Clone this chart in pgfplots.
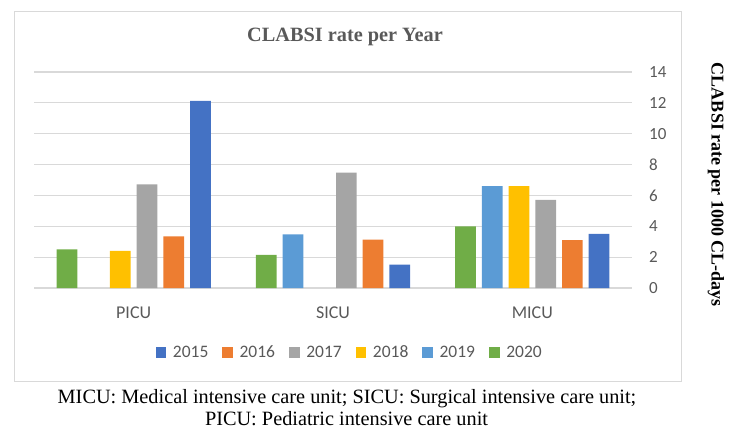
\documentclass[border=0pt]{standalone}
\usepackage{pgfplots}
\pgfplotsset{compat=1.18}
\usepackage{fontspec}
\setmainfont{Liberation Serif}
\newfontfamily\carlito{Carlito}
\definecolor{c2015}{HTML}{4472C4}
\definecolor{c2016}{HTML}{ED7D31}
\definecolor{c2017}{HTML}{A5A5A5}
\definecolor{c2018}{HTML}{FFC000}
\definecolor{c2019}{HTML}{5B9BD5}
\definecolor{c2020}{HTML}{70AD47}
\definecolor{gridgray}{HTML}{D9D9D9}
\definecolor{labelgray}{HTML}{595959}
\begin{document}
\begin{tikzpicture}[x=1pt,y=1pt]
\useasboundingbox (0,0) rectangle (744,-441);
\draw[gridgray, line width=1pt] (14,-12) rectangle (681,-381);
\node[anchor=base, font=\bfseries\fontsize{20.3}{22}\selectfont, text=labelgray] at (345,-41.7) {CLABSI rate per Year};
\begin{axis}[
  at={(34pt,-288pt)}, anchor=south west,
  scale only axis, width=598pt, height=216pt,
  ybar, bar width=20.7pt,
  xmin=-0.5, xmax=2.5, ymin=0, ymax=14,
  xtick={0,1,2}, xticklabels={PICU,SICU,MICU},
  ytick={0,2,...,14},
  yticklabel pos=right,
  major tick length=0pt,
  axis line style={draw=none},
  ymajorgrids, grid style={draw=gridgray, line width=1.2pt},
  ticklabel style={text=labelgray},
  yticklabel style={font=\carlito\fontsize{17}{17}\selectfont},
  xticklabel style={font=\carlito\fontsize{18}{18}\selectfont},
  /pgf/number format/assume math mode=true,
  yticklabel style={anchor=west, inner sep=0pt, xshift=17pt},
  xticklabel style={anchor=base, inner sep=0pt, yshift=-30.3pt},
  legend columns=6,
  legend style={at={(0.528,-0.298)}, anchor=center, draw=none,
    font=\carlito\fontsize{17.5}{17.5}\selectfont, text=labelgray,
    /tikz/every odd column/.append style={column sep=4.5pt},
    /tikz/every even column/.append style={column sep=12pt}},
  legend image code/.code={\path[#1,draw=none] (0pt,-5.3pt) rectangle (10.7pt,5.3pt);},
]
\addplot[fill=c2015, draw=none, bar shift=66.75pt] coordinates {(0,12.13) (1,1.52) (2,3.51)};
\addplot[fill=c2016, draw=none, bar shift=40.05pt] coordinates {(0,3.34) (1,3.14) (2,3.10)};
\addplot[fill=c2017, draw=none, bar shift=13.35pt] coordinates {(0,6.72) (1,7.48) (2,5.72)};
\addplot[fill=c2018, draw=none, bar shift=-13.35pt] coordinates {(0,2.40) (2,6.60)};
\addplot[fill=c2019, draw=none, bar shift=-40.05pt] coordinates {(1,3.47) (2,6.61)};
\addplot[fill=c2020, draw=none, bar shift=-66.75pt] coordinates {(0,2.51) (1,2.15) (2,4.00)};
\legend{2015,2016,2017,2018,2019,2020}
\end{axis}
\node[rotate=-90, font=\bfseries\fontsize{18}{20}\selectfont] at (716,-185) {CLABSI rate per 1000 CL-days};
\node[anchor=base, font=\fontsize{20.3}{22}\selectfont] at (347,-403.3) {MICU: Medical intensive care unit; SICU: Surgical intensive care unit;};
\node[anchor=base, font=\fontsize{20.3}{22}\selectfont] at (346.5,-425.5) {PICU: Pediatric intensive care unit};
\end{tikzpicture}
\end{document}
